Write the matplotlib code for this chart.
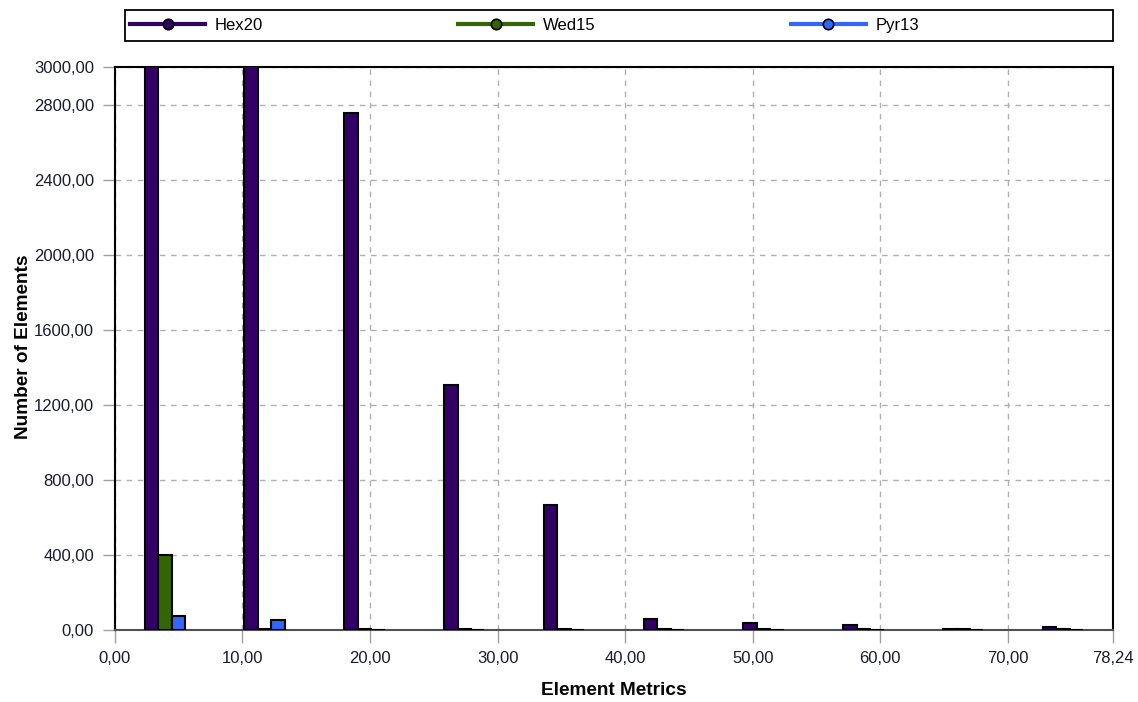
import matplotlib
matplotlib.use("Agg")
import matplotlib.pyplot as plt
from matplotlib.lines import Line2D
from matplotlib.patches import Rectangle
import numpy as np

# Data
x_max = 78.24
n_bins = 10
series_names = ["Hex20", "Wed15", "Pyr13"]
hex20 = [3550, 3250, 2755, 1305, 665, 60, 35, 25, 4, 15]
wed15 = [400, 4, 4, 4, 4, 4, 4, 4, 4, 4]
pyr13 = [75, 55, 2, 2, 2, 2, 2, 2, 2, 2]
colors = ["#330066", "#336600", "#3366ff"]
x_ticks = [0, 10, 20, 30, 40, 50, 60, 70, 78.24]
y_ticks = [0, 400, 800, 1200, 1600, 2000, 2400, 2800, 3000]

plt.rcParams['font.family'] = ['Liberation Sans', 'DejaVu Sans']

fig = plt.figure(figsize=(11.38, 7.02), dpi=100)
ax = fig.add_axes([0.101, 0.1026, 0.877, 0.802])

bin_w = x_max / n_bins
centers = (np.arange(n_bins) + 0.5) * bin_w
bw = bin_w * 0.135
for i, (vals, c) in enumerate(zip([hex20, wed15, pyr13], colors)):
    ax.bar(centers + (i - 1) * bw, vals, width=bw, color=c,
           edgecolor="black", linewidth=1.5, zorder=3)

ax.set_xlim(0, x_max)
ax.set_ylim(0, 3000)
ax.set_xticks(x_ticks)
ax.set_xticklabels([f"{v:.2f}".replace(".", ",") for v in x_ticks])
ax.set_yticks(y_ticks)
ax.set_yticklabels([f"{v:.2f}".replace(".", ",") for v in y_ticks])

ax.grid(True, linestyle=(0, (4, 4)), color="#b0b0b0", linewidth=1.0, zorder=0)
ax.tick_params(axis="both", direction="out", length=9, color="#a0a0a0",
               labelsize=12, labelcolor="#1a1a33", width=1)
ax.tick_params(axis="y", pad=6)
ax.tick_params(axis="x", pad=6)
for s in ["top", "right", "left"]:
    ax.spines[s].set_color("black")
    ax.spines[s].set_linewidth(1.5)
ax.spines["bottom"].set_color("#505050")
ax.spines["bottom"].set_linewidth(1.5)

ax.set_xlabel("Element Metrics", fontsize=13.7, fontweight="bold", va="center")
ax.set_ylabel("Number of Elements", fontsize=13.7, fontweight="bold", va="center")
ax.xaxis.set_label_coords(0.5, -0.1083)
ax.yaxis.set_label_coords(-0.092, 0.503)

# Legend frame
fig.patches.append(Rectangle((125 / 1138, 1 - 41 / 702), 988 / 1138, 31 / 702,
                             transform=fig.transFigure, fill=False,
                             edgecolor="black", linewidth=1.3))
handles = [Line2D([0], [0], color=c, lw=3, marker="o", markersize=7.5,
                  markerfacecolor=c, markeredgecolor="black", markeredgewidth=1.2)
           for c in colors]
leg = fig.legend(handles, series_names, loc="center left",
                 bbox_to_anchor=(130 / 1138, 1 - 25.5 / 702),
                 ncol=3, fontsize=12, handlelength=4.5, frameon=False,
                 borderaxespad=0, borderpad=0, handletextpad=0.6,
                 columnspacing=11.7)

fig.savefig("out.png", dpi=100)
